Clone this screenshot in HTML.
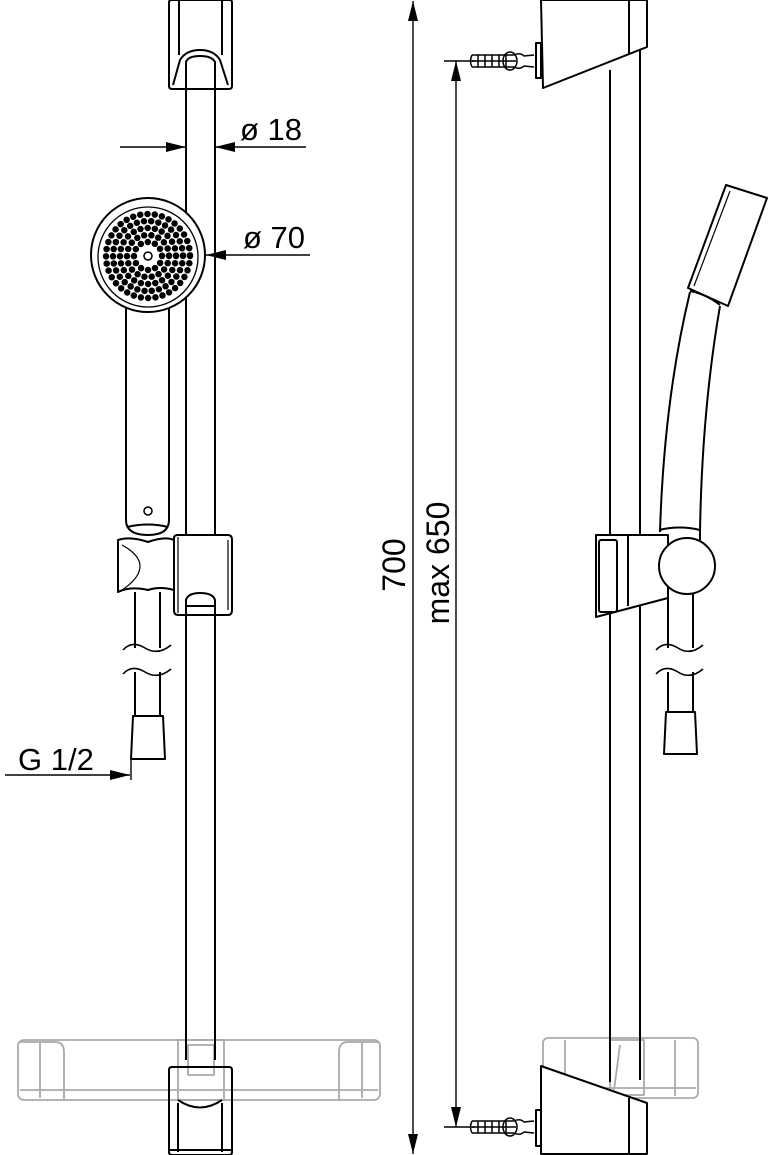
<!DOCTYPE html>
<html><head><meta charset="utf-8"><style>
html,body{margin:0;padding:0;background:#fff;}
svg{display:block;}
text{font-family:"Liberation Sans",sans-serif;fill:#000;}
</style></head><body>
<svg width="770" height="1155" viewBox="0 0 770 1155" xmlns="http://www.w3.org/2000/svg">
<defs>
<marker id="ar" viewBox="0 0 10 5" refX="10" refY="2.5" markerWidth="20" markerHeight="10" markerUnits="userSpaceOnUse" orient="auto"><path d="M0,0 L10,2.5 L0,5 Z" fill="#000"/></marker>
</defs>
<g fill="none" stroke="#000" stroke-width="2" stroke-linejoin="round">
<g stroke="#aaa" stroke-width="1.8">
<rect x="18" y="1040" width="362" height="60" rx="6"/>
<line x1="20" y1="1090" x2="378" y2="1090"/>
<line x1="40" y1="1042" x2="40" y2="1098"/>
<path d="M20,1042 H55 Q64,1042 64,1052 V1100"/>
<path d="M378,1042 H348 Q339,1042 339,1052 V1100"/>
<line x1="362" y1="1042" x2="362" y2="1098"/>
<rect x="178" y="1040" width="46" height="60"/>
<rect x="188" y="1045" width="26" height="30"/>
</g>
<line x1="186" y1="58" x2="186" y2="1060"/>
<line x1="215" y1="58" x2="215" y2="1060"/>
<path d="M169,2 Q169,0 172,0 H230 Q232,0 232,3 V86 Q232,89 229,89 H172 Q169,89 169,86 Z" fill="#fff"/>
<line x1="179" y1="1" x2="179" y2="55"/><line x1="222" y1="1" x2="222" y2="55"/>
<path d="M173,85 L180,60 Q186,50 200,50 Q214,50 220,60 L228,85"/>
<path d="M186,89 V62 Q188,56 200,56 Q212,56 215,62 V89"/>
<path d="M169,1070 Q169,1067 172,1067 H229 Q232,1067 232,1070 V1152 Q232,1155 229,1155 H172 Q169,1155 169,1152 Z"/>
<path d="M178,1100 Q200,1115 222,1100"/>
<line x1="178" y1="1103" x2="178" y2="1152"/><line x1="222" y1="1103" x2="222" y2="1152"/>
<line x1="170" y1="1150" x2="231" y2="1150"/>
<path d="M126,303 V520 Q126,535 148,535 Q169,535 169,520 V303" fill="#fff"/>
<path d="M127,527 Q148,522 168,527"/>
<circle cx="148" cy="511" r="4" stroke-width="1.5"/>
<circle cx="148" cy="255" r="57" fill="#fff"/>
<circle cx="148" cy="257" r="50" stroke-width="1.3"/>
<g stroke-linecap="round" stroke-width="6.5">
<circle cx="148" cy="256" r="14" stroke-dasharray="0 7.3"/>
<circle cx="148" cy="256" r="21" stroke-dasharray="0 7.3"/>
<circle cx="148" cy="256" r="28" stroke-dasharray="0 7.3"/>
<circle cx="148" cy="256" r="35" stroke-dasharray="0 7.3"/>
<circle cx="148" cy="256" r="42" stroke-dasharray="0 7.3"/>
</g>
<circle cx="148" cy="256" r="4" stroke-width="1.5"/>
<path d="M118,540 Q130,536 148,542 Q165,536 174,540 V590 Q160,586 148,590 Q130,586 118,592 Z" fill="#fff"/>
<path d="M122,545 Q140,555 140,566 Q140,578 122,590" stroke-width="1.2"/>
<path d="M174,538 Q174,535 178,535 H228 Q232,535 232,540 V610 Q232,615 228,615 H178 Q174,615 174,610 Z" fill="#fff"/>
<line x1="178" y1="537" x2="178" y2="613" stroke-width="1.2"/><line x1="228" y1="540" x2="228" y2="610" stroke-width="1.2"/>
<path d="M186,615 V600 Q188,593 200,593 Q213,593 215,600 V615"/>
<line x1="186" y1="606" x2="215" y2="606"/>
<line x1="135" y1="592" x2="135" y2="648"/><line x1="160" y1="592" x2="160" y2="648"/>
<path d="M123,650 Q132,640 145,648 Q158,656 171,645" stroke-width="1.6"/>
<path d="M123,674 Q132,664 145,672 Q158,680 171,669" stroke-width="1.6"/>
<line x1="135" y1="672" x2="135" y2="716"/><line x1="160" y1="672" x2="160" y2="716"/>
<path d="M133,716 H163 L165,759 H131 Z"/>
<line x1="120" y1="147" x2="186" y2="147" marker-end="url(#ar)" stroke-width="1.4"/>
<line x1="306" y1="147" x2="215" y2="147" marker-end="url(#ar)" stroke-width="1.4"/>
<line x1="310" y1="255" x2="206" y2="255" marker-end="url(#ar)" stroke-width="1.4"/>
<line x1="5" y1="775" x2="130" y2="775" marker-end="url(#ar)" stroke-width="1.4"/>
<line x1="131" y1="759" x2="131" y2="780" stroke-width="1.4"/>
<line x1="413" y1="580" x2="413" y2="1" marker-end="url(#ar)" stroke-width="1.4"/>
<line x1="413" y1="580" x2="413" y2="1154" marker-end="url(#ar)" stroke-width="1.4"/>
<line x1="456" y1="580" x2="456" y2="61" marker-end="url(#ar)" stroke-width="1.4"/>
<line x1="456" y1="580" x2="456" y2="1127" marker-end="url(#ar)" stroke-width="1.4"/>
<line x1="444" y1="61" x2="475" y2="61" stroke-width="1.4"/>
<line x1="444" y1="1127" x2="475" y2="1127" stroke-width="1.4"/>
<g stroke="#aaa" stroke-width="1.8">
<rect x="543" y="1038" width="155" height="60" rx="5"/>
<line x1="545" y1="1088" x2="696" y2="1088"/>
<line x1="565" y1="1040" x2="565" y2="1096"/>
<line x1="675" y1="1040" x2="675" y2="1096"/>
<rect x="610" y="1040" width="34" height="55"/>
<line x1="620" y1="1045" x2="614" y2="1090"/>
</g>
<line x1="610" y1="70" x2="610" y2="1082"/>
<line x1="640" y1="50" x2="640" y2="1080"/>
<path d="M541,0 H647 V47 L543,88 Z" fill="#fff"/>
<line x1="629" y1="0" x2="629" y2="54"/>
<rect x="536" y="43" width="5" height="35"/>
<g stroke-width="1.5">
<path d="M472,55 H514 Q520,52 524,56 L534,55 M472,67 H514 Q520,70 524,66 L534,67"/>
<path d="M472,55 Q469,61 472,67"/>
<line x1="472" y1="61" x2="516" y2="61"/>
<line x1="478" y1="55" x2="478" y2="67"/><line x1="485" y1="55" x2="485" y2="67"/><line x1="492" y1="55" x2="492" y2="67"/><line x1="499" y1="55" x2="499" y2="67"/><line x1="506" y1="55" x2="506" y2="67"/>
<ellipse cx="510" cy="61" rx="7" ry="9"/>
<path d="M472,1121 H514 Q520,1118 524,1122 L534,1121 M472,1133 H514 Q520,1136 524,1132 L534,1133"/>
<path d="M472,1121 Q469,1127 472,1133"/>
<line x1="472" y1="1127" x2="516" y2="1127"/>
<line x1="478" y1="1121" x2="478" y2="1133"/><line x1="485" y1="1121" x2="485" y2="1133"/><line x1="492" y1="1121" x2="492" y2="1133"/><line x1="499" y1="1121" x2="499" y2="1133"/><line x1="506" y1="1121" x2="506" y2="1133"/>
<ellipse cx="510" cy="1127" rx="7" ry="9"/>
</g>
<path d="M541,1066 L647,1103 V1154 H541 Z" fill="#fff"/>
<line x1="629" y1="1098" x2="629" y2="1154"/>
<rect x="536" y="1110" width="5" height="36"/>
<path d="M690,292 Q664,400 660,532 L700,532 Q702,410 720,306 Z" fill="#fff" stroke="none"/>
<path d="M690,292 Q664,400 660,532"/>
<path d="M720,306 Q702,410 700,532"/>
<path d="M726,185 L767,198 L728,306 L688,288 Z" fill="#fff"/>
<path d="M730,191 L694,286" stroke-width="1.2"/>
<path d="M690,291 Q706,294 720,305"/>
<path d="M596,535 H668 V598 L596,617 Z" fill="#fff"/>
<rect x="599" y="540" width="18" height="72" rx="2"/>
<line x1="628" y1="535" x2="628" y2="606"/>
<path d="M659,530 Q680,525 700,530 V540"/>
<circle cx="687" cy="566" r="28" fill="#fff"/>
<path d="M668,593 V612 M693,593 V608"/>
<line x1="668" y1="612" x2="668" y2="648"/><line x1="693" y1="608" x2="693" y2="648"/>
<path d="M656,650 Q665,640 678,648 Q690,656 703,645" stroke-width="1.6"/>
<path d="M656,674 Q665,664 678,672 Q690,680 703,669" stroke-width="1.6"/>
<line x1="668" y1="672" x2="668" y2="712"/><line x1="693" y1="672" x2="693" y2="712"/>
<path d="M666,712 H695 L697,754 H664 Z"/>
</g>
<text x="240" y="140" font-size="31">ø 18</text>
<text x="243" y="248" font-size="31">ø 70</text>
<text x="18" y="770" font-size="31">G 1/2</text>
<text transform="translate(405,565) rotate(-90)" text-anchor="middle" font-size="32">700</text>
<text transform="translate(449,563) rotate(-90)" text-anchor="middle" font-size="32">max 650</text>
</svg>
</body></html>
